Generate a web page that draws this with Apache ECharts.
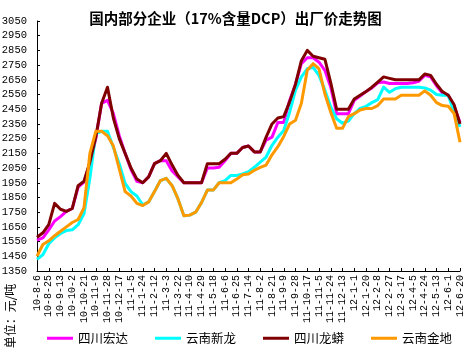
<!DOCTYPE html>
<html>
<head>
<meta charset="utf-8">
<script src="https://cdn.jsdelivr.net/npm/echarts@6/dist/echarts.min.js"></script>
<style>
  html, body { margin: 0; padding: 0; background: #fff; }
  #main { width: 471px; height: 351px; }
</style>
</head>
<body>
<div id="main"></div>
<script>
// 日期标签（每隔19天）
var dateLabels = ['10-8-6','10-8-25','10-9-13','10-10-2','10-10-21','10-11-9','10-11-28','10-12-17',
    '11-1-5','11-1-24','11-2-12','11-3-3','11-3-22','11-4-10','11-4-29','11-5-18','11-6-6','11-6-25',
    '11-7-14','11-8-2','11-8-21','11-9-9','11-9-28','11-10-17','11-11-5','11-11-24','11-12-13',
    '12-1-1','12-1-20','12-2-8','12-2-27','12-3-17','12-4-5','12-4-24','12-5-13','12-6-1','12-6-20'];

var yTicks = [1350,1450,1550,1650,1750,1850,1950,2050,2150,2250,2350,2450,2550,2650,2750,2850,2950,3050];

var seriesNames = ['四川宏达','云南新龙','四川龙蟒','云南金地'];
var seriesColors = ['#ff00ff','#00ffff','#800000','#ff9900'];

// 四川宏达
var hongda = [1560,1575,1630,1690,1720,1755,1775,1920,1955,2080,2250,2490,2510,2420,2270,2150,2040,1960,
    1950,1990,2080,2100,2100,2030,1990,1950,1950,1950,1950,2050,2050,2055,2100,2150,2150,2190,
    2200,2160,2160,2240,2260,2360,2360,2510,2620,2760,2800,2800,2770,2715,2600,2420,2420,2420,
    2510,2540,2570,2595,2630,2635,2625,2625,2625,2625,2630,2640,2680,2670,2610,2560,2545,2470,2360];
// 云南新龙
var xinlong = [1430,1460,1535,1575,1605,1625,1630,1665,1740,1980,2285,2300,2300,2190,2080,1945,1890,1860,
    1800,1820,1890,1965,1980,1930,1840,1725,1730,1750,1815,1900,1900,1950,1965,2000,2000,2010,
    2025,2055,2090,2125,2205,2260,2305,2430,2580,2670,2725,2735,2680,2580,2465,2385,2355,2370,
    2420,2455,2470,2495,2515,2600,2565,2590,2600,2600,2600,2600,2595,2580,2550,2545,2545,2430,2330];
// 四川龙蟒
var longmang = [1580,1610,1665,1810,1770,1755,1775,1930,1960,2090,2260,2490,2600,2390,2250,2150,2050,1975,
    1950,1990,2080,2100,2150,2070,2000,1950,1950,1950,1950,2080,2080,2080,2110,2150,2150,2190,
    2200,2160,2160,2260,2350,2390,2400,2500,2620,2780,2850,2810,2800,2790,2630,2450,2450,2450,
    2520,2545,2570,2600,2635,2670,2660,2650,2650,2650,2650,2650,2690,2680,2620,2570,2545,2480,2350];
// 云南金地
var jindi = [1450,1530,1555,1590,1620,1650,1680,1700,1780,2150,2300,2300,2270,2200,2045,1890,1860,1810,
    1795,1820,1890,1965,1980,1930,1840,1725,1730,1750,1815,1900,1900,1950,1950,1950,1975,2005,
    2010,2035,2055,2070,2140,2195,2265,2350,2375,2490,2715,2760,2725,2555,2430,2320,2320,2400,
    2420,2445,2455,2455,2475,2520,2520,2520,2545,2545,2545,2545,2575,2545,2495,2475,2470,2420,2225];

// 每两个标签之间插一个空位
var categories = [];
for (var i = 0; i < dateLabels.length; i++) {
    categories.push(dateLabels[i]);
    if (i < dateLabels.length - 1) categories.push('');
}

var allData = [hongda, xinlong, longmang, jindi];
var series = [];
for (var s = 0; s < seriesNames.length; s++) {
    series.push({
        name: seriesNames[s],
        type: 'line',
        data: allData[s],
        showSymbol: false,
        symbol: 'none',
        lineStyle: { width: 3, color: seriesColors[s], join: 'round' },
        itemStyle: { color: seriesColors[s] }
    });
}

var myChart = echarts.init(document.getElementById('main'));
var option = {
    animation: false,
    backgroundColor: '#fff',
    title: {
        text: '国内部分企业（17%含量DCP）出厂价走势图',
        left: 'center',
        top: 6,
        textStyle: {
            fontFamily: 'Noto Sans CJK SC',
            fontSize: 14.5,
            fontWeight: 'bold',
            color: '#000'
        }
    },
    legend: {
        data: seriesNames,
        left: 42,
        top: 327,
        icon: 'rect',
        itemWidth: 26,
        itemHeight: 3,
        itemGap: 27,
        textStyle: {
            fontFamily: 'Noto Sans CJK SC',
            fontSize: 12.5,
            color: '#000'
        }
    },
    grid: {
        left: 37,
        right: 11,
        top: 21,
        bottom: 80,
        outerBoundsMode: 'none'
    },
    xAxis: {
        type: 'category',
        data: categories,
        boundaryGap: false,
        axisLine: { lineStyle: { color: '#000', width: 1 } },
        axisTick: {
            inside: true,
            length: 3,
            interval: 1,
            lineStyle: { color: '#000' }
        },
        axisLabel: {
            interval: 1,
            rotate: 90,
            margin: 4,
            fontFamily: 'Liberation Mono',
            fontSize: 10,
            color: '#000'
        },
        splitLine: { show: false }
    },
    yAxis: {
        type: 'value',
        min: 1350,
        max: 3050,
        axisLine: { show: true, lineStyle: { color: '#000', width: 1 } },
        axisTick: {
            show: true,
            inside: true,
            length: 3,
            customValues: yTicks,
            lineStyle: { color: '#000' }
        },
        axisLabel: {
            customValues: yTicks,
            formatter: function (v) { return String(v); },
            margin: 10,
            fontFamily: 'Liberation Mono',
            fontSize: 10.5,
            color: '#000'
        },
        splitLine: { show: false }
    },
    graphic: [{
        type: 'text',
        x: 10,
        y: 316,
        rotation: Math.PI / 2,
        style: {
            text: '单位：元/吨',
            fontFamily: 'Noto Sans CJK SC',
            fontSize: 12,
            fill: '#000',
            align: 'center',
            verticalAlign: 'middle'
        }
    }],
    series: series
};
myChart.setOption(option);
</script>
</body>
</html>
